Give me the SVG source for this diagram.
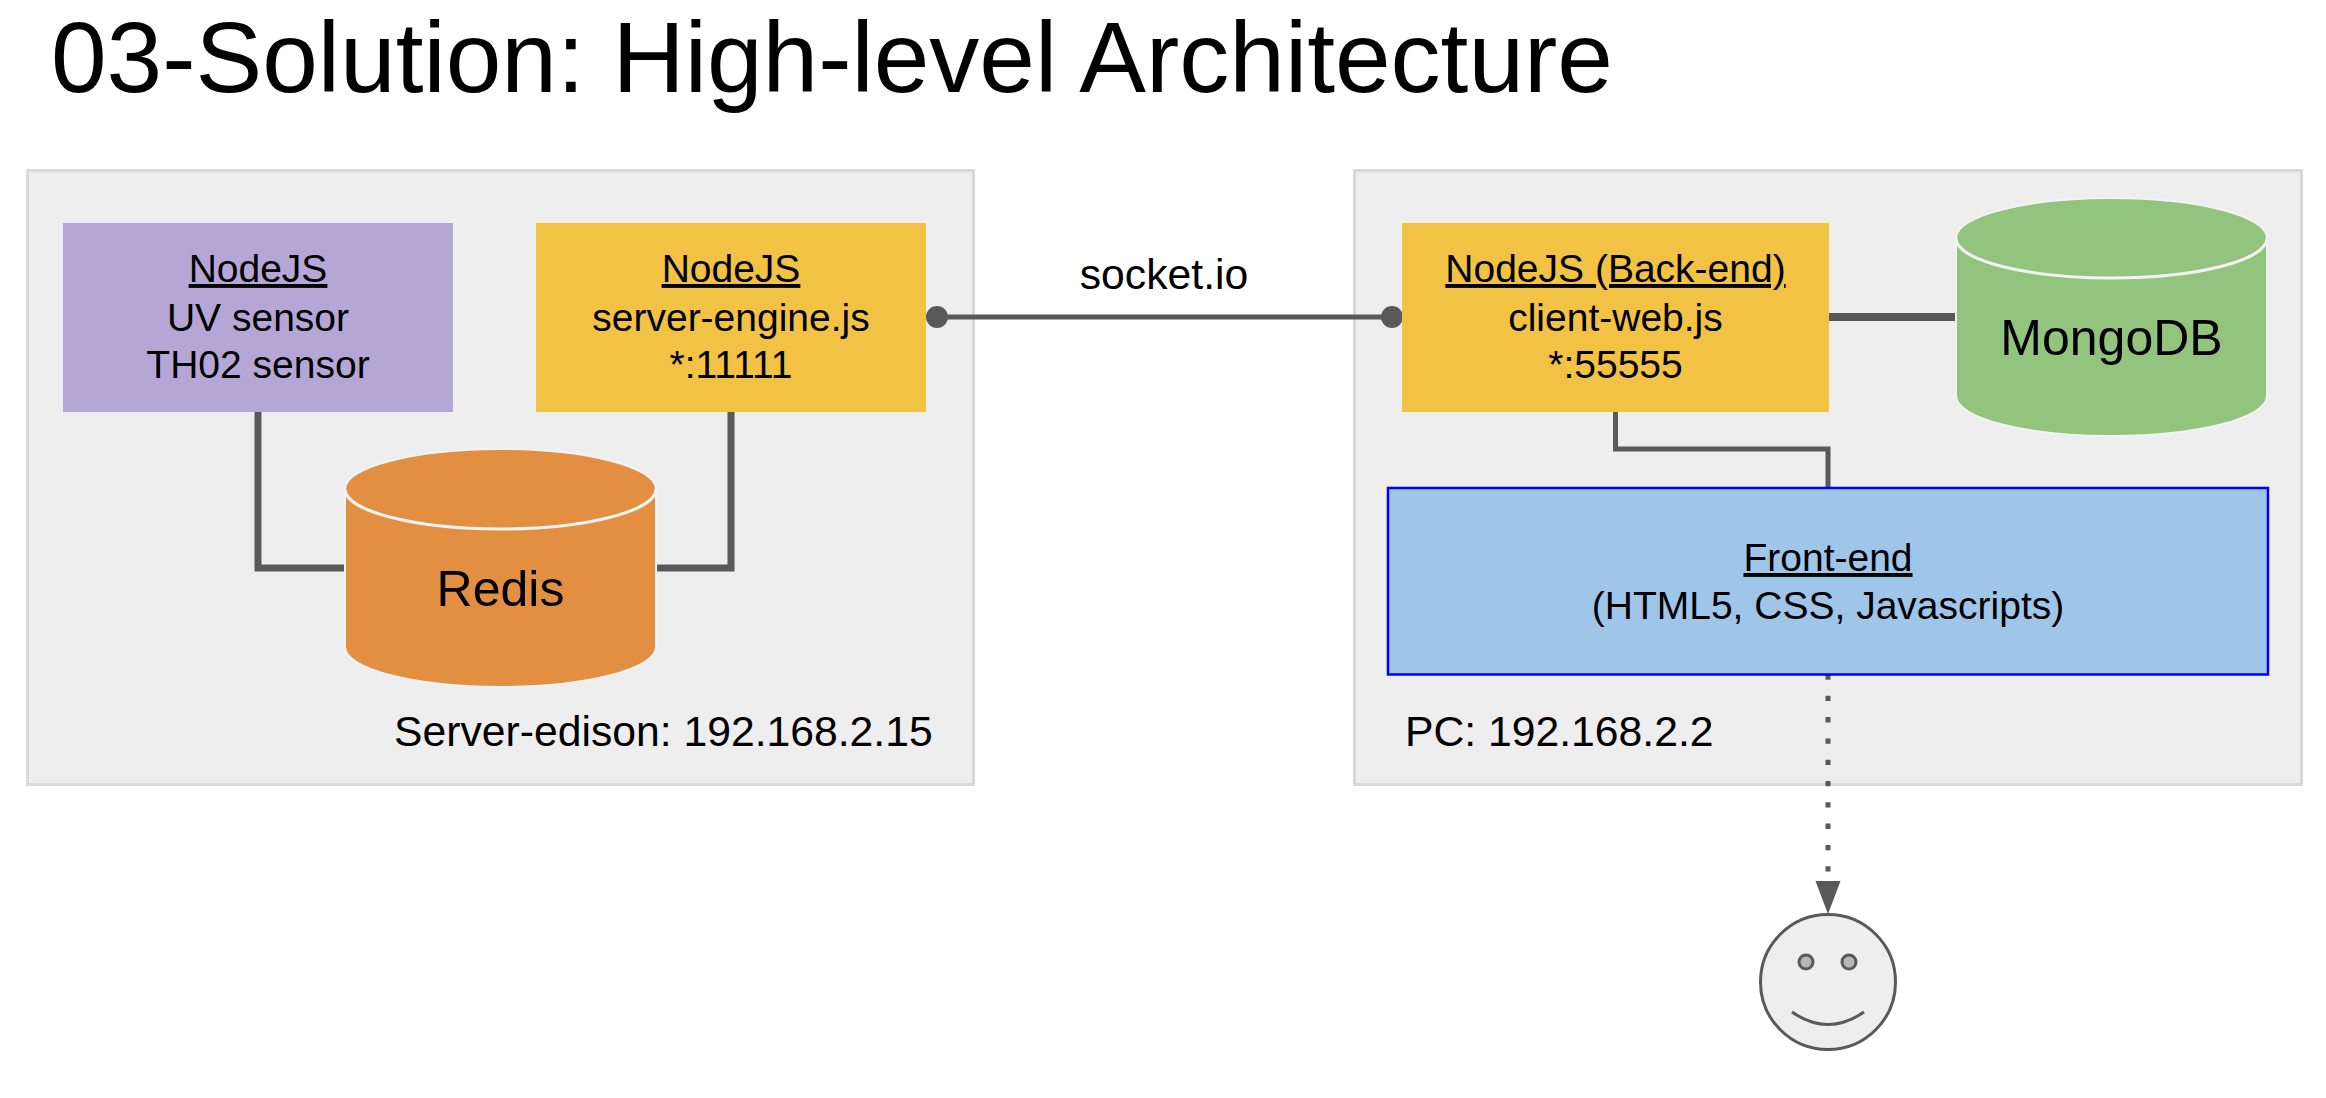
<svg xmlns="http://www.w3.org/2000/svg" width="2326" height="1098" viewBox="0 0 2326 1098">
<style>
text{font-family:"Liberation Sans",Arial,sans-serif;fill:#000;font-size:39px}
.m{text-anchor:middle}
.u{text-decoration:underline;text-decoration-skip-ink:none}
.l{font-size:42.700px}
.b{font-size:50px}
.panel{fill:#eee;stroke:#d9d9d9;stroke-width:3}
.conn{fill:none;stroke:#595959}
.cyl{stroke:#f3f3f3;stroke-width:2}
.rim{fill:none;stroke:#f3f3f3;stroke-width:3}
</style>
<rect width="2326" height="1098" fill="#fff"/>
<text id="title" x="51" y="92" style="font-size:100px">03-Solution: High-level Architecture</text>
<g id="panel-server"><rect class="panel" x="27.500" y="170.500" width="946" height="614"/><text class="l" x="394" y="746">Server-edison: 192.168.2.15</text></g>
<g id="panel-pc"><rect class="panel" x="1354.500" y="170.500" width="947" height="614"/><text class="l" x="1405" y="746">PC: 192.168.2.2</text></g>
<g id="connectors">
<path class="conn" stroke-width="7" d="M258 412V568H346"/>
<path class="conn" stroke-width="7" d="M731 412V568H655"/>
<path class="conn" stroke-width="5" d="M937 317H1392"/>
<circle cx="937" cy="317" r="11" fill="#595959"/>
<circle cx="1392" cy="317" r="11" fill="#595959"/>
<path class="conn" stroke-width="8" d="M1829 317H1956"/>
<path class="conn" stroke-width="5" d="M1615.500 412V449H1828V488"/>
<path class="conn" stroke-width="5" stroke-dasharray="5.300 16" d="M1828 674.500V872"/>
<polygon points="1815.500,881 1840.500,881 1828,914" fill="#595959"/>
</g>
<g id="node-uv"><rect x="63" y="223" width="390" height="189" fill="#b4a7d6"/>
<text class="m u" x="258" y="282">NodeJS</text><text class="m" x="258" y="331">UV sensor</text><text class="m" x="258" y="378">TH02 sensor</text></g>
<g id="node-server-engine"><rect x="536" y="223" width="390" height="189" fill="#f1c244"/>
<text class="m u" x="731" y="282">NodeJS</text><text class="m" x="731" y="331">server-engine.js</text><text class="m" x="731" y="378">*:11111</text></g>
<g id="node-redis"><path class="cyl" fill="#e38f41" d="M345 489C345 467 415 449 500.500 449S656 467 656 489V647C656 669 586 687 500.500 687S345 669 345 647Z"/>
<path class="rim" d="M345 489C345 511 415 529 500.500 529S656 511 656 489"/>
<text class="m b" x="500.500" y="606">Redis</text></g>
<g id="node-client-web"><rect x="1402" y="223" width="427" height="189" fill="#f1c244"/>
<text class="m u" x="1615.500" y="282">NodeJS (Back-end)</text><text class="m" x="1615.500" y="331">client-web.js</text><text class="m" x="1615.500" y="378">*:55555</text></g>
<g id="node-mongodb"><path class="cyl" fill="#93c47d" d="M1956 238C1956 216 2025 198 2111.500 198S2267 216 2267 238V396C2267 418 2198 436 2111.500 436S1956 418 1956 396Z"/>
<path class="rim" d="M1956 238C1956 260 2025 278 2111.500 278S2267 260 2267 238"/>
<text class="m b" x="2111.500" y="355">MongoDB</text></g>
<g id="node-frontend"><rect x="1388" y="488" width="880" height="186.500" fill="#9fc5e8" stroke="#0000ff" stroke-width="2.500"/>
<text class="m u" x="1828" y="571">Front-end</text><text class="m" x="1828" y="619">(HTML5, CSS, Javascripts)</text></g>
<text id="label-socket" class="m l" x="1164" y="289">socket.io</text>
<g id="node-user" stroke="#595959"><circle cx="1828" cy="982" r="67.500" fill="#eee" stroke-width="3"/>
<circle cx="1806" cy="962" r="7" fill="#b7b7b7" stroke-width="3"/><circle cx="1849" cy="962" r="7" fill="#b7b7b7" stroke-width="3"/>
<path d="M1792 1012Q1828 1037 1864 1012" fill="none" stroke-width="3"/></g>
</svg>
